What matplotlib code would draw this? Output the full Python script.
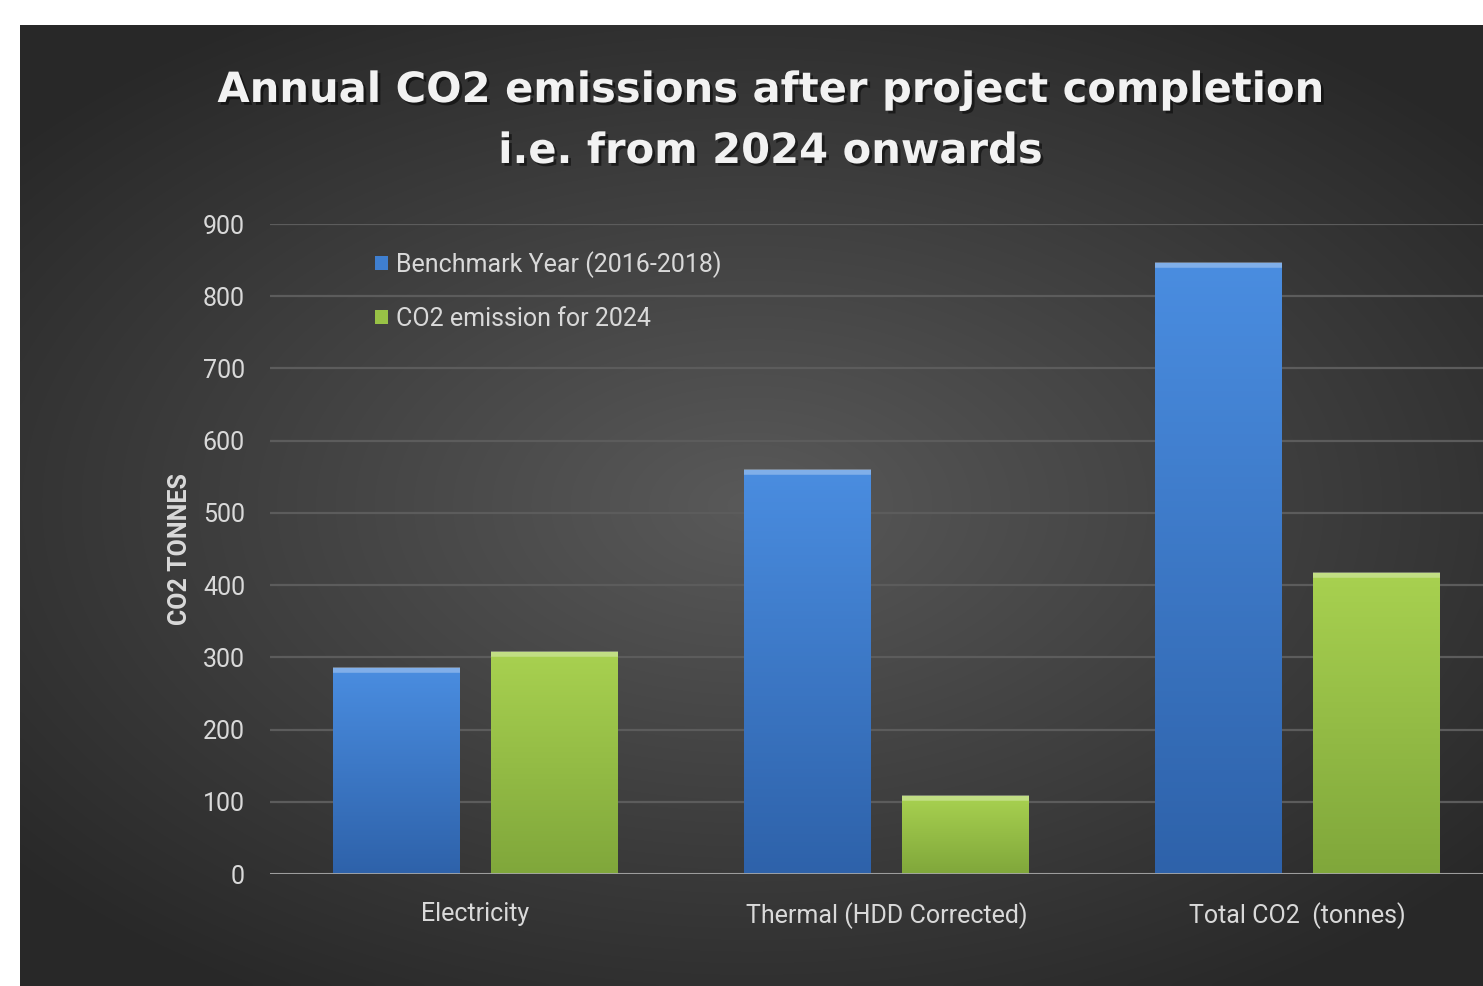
import matplotlib.pyplot as plt
import matplotlib.patheffects as pe
from matplotlib.patches import Patch
import numpy as np

categories = ['Electricity', 'Thermal (HDD Corrected)', 'Total CO2  (tonnes)']
benchmark = [285, 559, 846]
emission_2024 = [307, 108, 417]
series_names = ['Benchmark Year (2016-2018)', 'CO2 emission for 2024']
yticks = [0, 100, 200, 300, 400, 500, 600, 700, 800, 900]

W, H = 1483, 986
txt = '#d9d9d9'
plt.rcParams['font.family'] = ['Roboto', 'DejaVu Sans']

fig = plt.figure(figsize=(W / 100, H / 100), dpi=100)
fig.patch.set_facecolor('white')

# dark radial background panel
bg = fig.add_axes([20 / W, 0, 1 - 20 / W, 1 - 25 / H])
gx, gy = np.meshgrid(np.linspace(-1, 1, 300), np.linspace(-1, 1, 200))
r = np.clip(np.sqrt(gx ** 2 + (gy * 1.1) ** 2), 0, 1.3)
shade = 0.35 - 0.19 * r / 1.3
bg.imshow(np.dstack([shade] * 3), extent=[0, 1, 0, 1], aspect='auto', interpolation='bicubic')
bg.set_axis_off()

ax = fig.add_axes([270 / W, 1 - 874 / H, 3 * 411 / W, 650 / H])
ax.patch.set_alpha(0)
x = np.arange(len(categories))
w = 0.309
off = 0.191

def grad_bars(bars, top, bottom):
    top = np.array(plt.matplotlib.colors.to_rgb(top))
    bottom = np.array(plt.matplotlib.colors.to_rgb(bottom))
    t = np.linspace(0, 1, 100)[:, None]
    img = (top * (1 - t) + bottom * t)[:, None, :]
    for b in bars:
        x0, y0 = b.get_x(), b.get_y()
        x1, y1 = x0 + b.get_width(), y0 + b.get_height()
        im = ax.imshow(img, extent=[x0, x1, y0, y1], aspect='auto', zorder=3)
        im.set_clip_path(b)
        # bevel highlight on top
        ax.plot([x0, x1], [y1 - 3, y1 - 3], color=top * 0.4 + 0.6, lw=4, alpha=0.5,
                zorder=4, solid_capstyle='butt')

b1 = ax.bar(x - off, benchmark, w, color='#3f7fd0', zorder=2, edgecolor='none')
b2 = ax.bar(x + off, emission_2024, w, color='#98c246', zorder=2, edgecolor='none')
grad_bars(b1, '#4a8de0', '#2e62aa')
grad_bars(b2, '#a8d150', '#80a73b')

ax.set_xlim(-0.5, 2.5)
ax.set_ylim(0, 900)
ax.set_yticks(yticks)
ax.set_xticks(x)
ax.set_xticklabels(categories)
ax.tick_params(length=0, colors=txt, labelsize=18)
ax.tick_params(axis='x', pad=20)
ax.tick_params(axis='y', pad=18)
ax.grid(axis='y', color='#5c5c5c', lw=1.6, zorder=0)
ax.axhline(0, color='#a6a6a6', lw=2, zorder=5)
for s in ax.spines.values():
    s.set_visible(False)

ax.set_ylabel('CO2 TONNES', color=txt, fontsize=18, fontweight='bold', labelpad=8)

handles = [Patch(facecolor='#3f7fd0'), Patch(facecolor='#98c246')]
leg = ax.legend(handles, series_names, loc='upper left', bbox_to_anchor=(375 / W, 1 - 251 / H),
                bbox_transform=fig.transFigure, frameon=False, fontsize=18,
                handlelength=0.5, handleheight=0.5, handletextpad=0.35, labelspacing=1.15,
                borderpad=0, borderaxespad=0)
for t in leg.get_texts():
    t.set_color(txt)

shadow = [pe.SimplePatchShadow(offset=(2, -2), shadow_rgbFace='black', alpha=0.5), pe.Normal()]
fig.text(770 / W, 1 - 90 / H, 'Annual CO2 emissions after project completion',
         ha='center', va='center', fontsize=30, fontweight='bold', color='#f2f2f2',
         family='DejaVu Sans', path_effects=shadow)
fig.text(770 / W, 1 - 151 / H, 'i.e. from 2024 onwards',
         ha='center', va='center', fontsize=30, fontweight='bold', color='#f2f2f2',
         family='DejaVu Sans', path_effects=shadow)

fig.savefig('out.png', dpi=100)
